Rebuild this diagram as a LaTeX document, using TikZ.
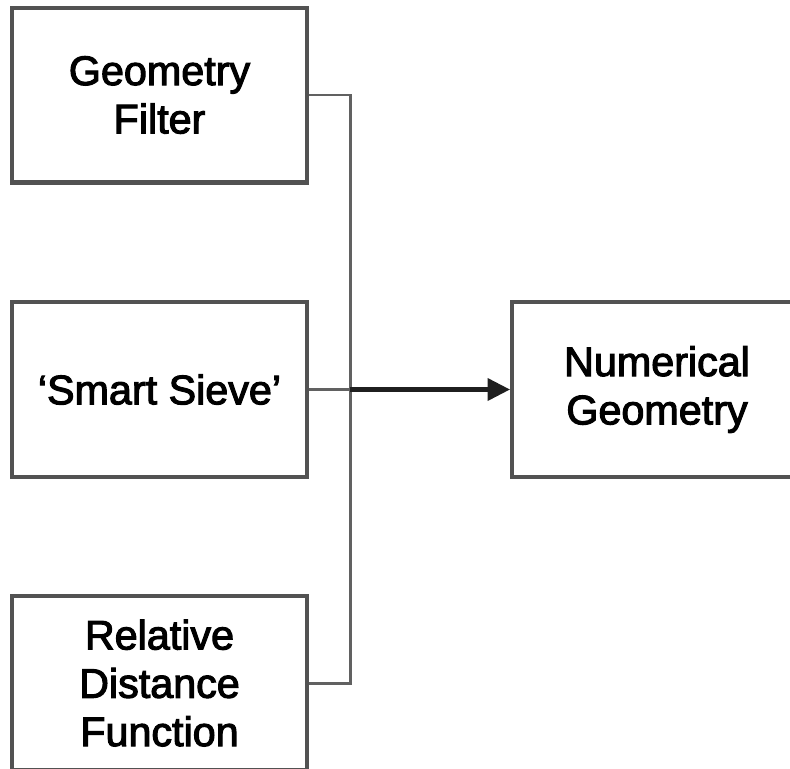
\documentclass[tikz,border=0pt]{standalone}
\usepackage{fontspec}
\setmainfont{Liberation Sans}
\newfontfamily\blockfont[FakeBold=2.6]{Liberation Sans}
\usetikzlibrary{arrows.meta}
\begin{document}
\begin{tikzpicture}[x=0.02cm,y=-0.02cm,
  block/.style={draw=black!68, line width=2.3pt, fill=white, rectangle,
    minimum width=5.9cm, minimum height=3.5cm, align=center, inner sep=0pt,
    font=\blockfont\fontsize{23.5pt}{27.5pt}\selectfont},
  link/.style={draw=black!62, line width=1.7pt},
  feed/.style={draw=black!88, line width=2.3pt,
    -{Triangle[length=0.45cm,width=0.44cm]}}]
  \useasboundingbox (0,0) rectangle (790,768);
  \clip (0,0) rectangle (790,768);
  % input blocks on the left
  \node[block] (filter) at (159.5,95) {Geometry\\Filter};
  \node[block] (sieve) at (159.5,389.5) {‘Smart Sieve’};
  \node[block] (dist) at (159.5,683) {Relative\\Distance\\Function};
  % output block on the right
  \node[block, minimum width=5.8cm] (numgeo) at (657,389.5) {Numerical\\Geometry};
  % collecting bus
  \coordinate (bustop) at (350,95);
  \coordinate (busmid) at (350,389.5);
  \coordinate (busbot) at (350,683);
  \draw[link] (filter.east) -- (bustop) -- (busbot) -- (dist.east);
  \draw[link] (sieve.east) -- (busmid);
  \draw[feed] (busmid) -- (numgeo.west);
\end{tikzpicture}
\end{document}
